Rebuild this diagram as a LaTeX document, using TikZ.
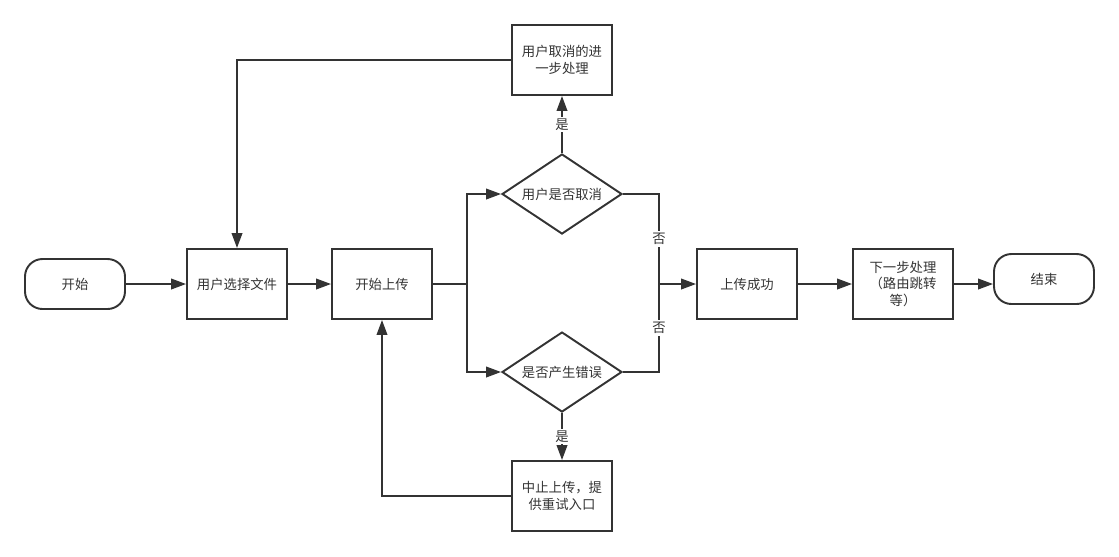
\documentclass[tikz,border=0pt]{standalone}
\usepackage{fontspec}
\setmainfont{Noto Sans CJK SC}
\usetikzlibrary{shapes.geometric,arrows.meta}
\definecolor{ink}{HTML}{333333}

\begin{document}
\begin{tikzpicture}[x=0.02cm, y=-0.02cm,
    every node/.style={text=ink, font=\fontsize{7.6}{9.6}\selectfont},
    box/.style={draw=ink, line width=1.1pt, minimum width=2cm, minimum height=1.4cm, align=center, inner sep=2pt},
    term/.style={draw=ink, line width=1.1pt, rounded corners=0.35cm, minimum width=2cm, minimum height=1cm},
    decide/.style={diamond, aspect=1.5, draw=ink, line width=1.1pt, minimum width=2.4cm, minimum height=1.6cm, inner sep=0pt},
    lbl/.style={fill=white, inner sep=1pt},
    line/.style={draw=ink, line width=1.1pt},
    arr/.style={line, -{Triangle[length=8.5pt, width=6pt]}}]
    \useasboundingbox (0,0) rectangle (1119,556);
    % Nodes
    \node[term] (start) at (75,284) {开始};
    \node[box] (select) at (237,284) {用户选择文件};
    \node[box] (upload) at (382,284) {开始上传};
    \node[decide] (cancelq) at (562,194) {用户是否取消};
    \node[box] (cancelbox) at (562,60) {用户取消的进\\一步处理};
    \node[decide] (errorq) at (562,372) {是否产生错误};
    \node[box] (abortbox) at (562,496) {中止上传，提\\供重试入口};
    \node[box] (success) at (747,284) {上传成功};
    \node[box] (next) at (903,284) {下一步处理\\（路由跳转\\等）};
    \node[term] (end) at (1044,279) {结束};
    \coordinate (split) at (467,284);
    \coordinate (join) at (659,284);
    % Edges
    \draw[arr] (start) -- (select);
    \draw[arr] (select) -- (upload);
    \draw[line] (upload) -- (split);
    \draw[arr] (split) |- (cancelq);
    \draw[arr] (split) |- (errorq);
    \draw[arr] (cancelq) -- node[lbl] {是} (cancelbox);
    \draw[arr] (errorq) -- node[lbl] {是} (abortbox);
    \draw[line] (cancelq.east) -| node[lbl, pos=0.75] {否} (join);
    \draw[line] (errorq.east) -| node[lbl, pos=0.75] {否} (join);
    \draw[arr] (join) -- (success);
    \draw[arr] (success) -- (next);
    \draw[arr] (next) -- (next -| end.west);
    \draw[arr] (cancelbox) -| (select);
    \draw[arr] (abortbox) -| (upload);
\end{tikzpicture}
\end{document}
